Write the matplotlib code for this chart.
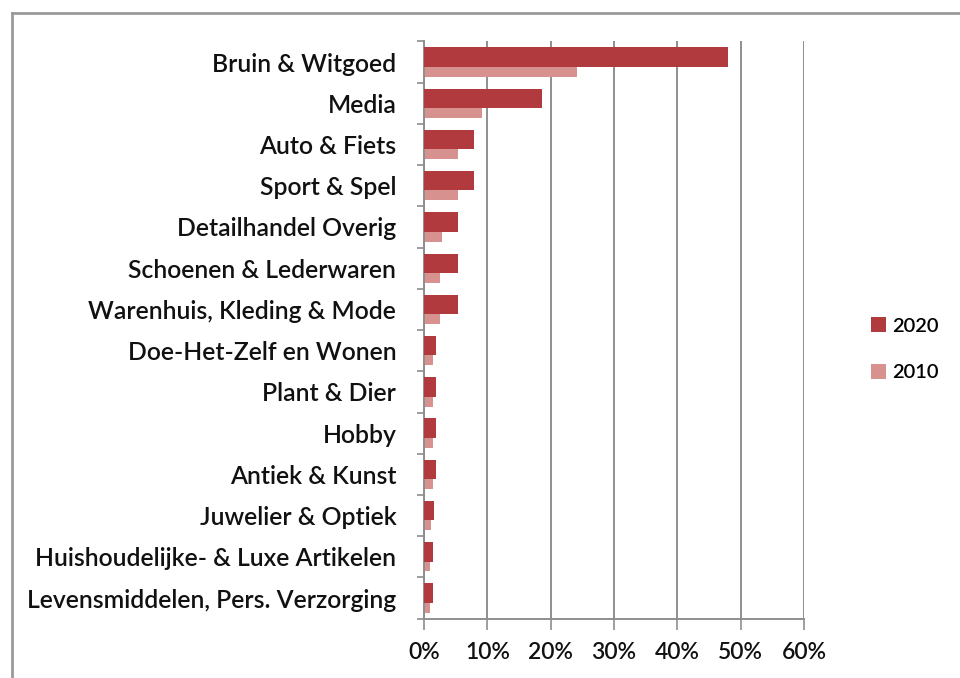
import numpy as np
import matplotlib.pyplot as plt
from matplotlib.lines import Line2D
from matplotlib.ticker import PercentFormatter

categories = ['Bruin & Witgoed', 'Media', 'Auto & Fiets', 'Sport & Spel',
              'Detailhandel Overig', 'Schoenen & Lederwaren',
              'Warenhuis, Kleding & Mode', 'Doe-Het-Zelf en Wonen',
              'Plant & Dier', 'Hobby', 'Antiek & Kunst', 'Juwelier & Optiek',
              'Huishoudelijke- & Luxe Artikelen',
              'Levensmiddelen, Pers. Verzorging']
share_2020 = [48, 18.6, 7.9, 7.9, 5.4, 5.4, 5.4, 1.9, 1.9, 1.9, 1.9, 1.6, 1.4, 1.4]
share_2010 = [24.2, 9.2, 5.4, 5.4, 2.8, 2.5, 2.5, 1.4, 1.4, 1.4, 1.4, 1.1, 0.9, 0.9]

c2020 = '#B03A3E'
c2010 = '#D7918F'
grid_c = '#8E8E8E'
font = 'Lato'

fig = plt.figure(figsize=(9.6, 6.78), dpi=100)
ax = fig.add_axes([0.4417, 0.0875, 0.3958, 0.8514])

y = np.arange(len(categories))
h = 0.47
off = 0.12
ax.barh(y + off, share_2010, height=h, color=c2010, label='2010', zorder=2)
ax.barh(y - off, share_2020, height=h, color=c2020, label='2020', zorder=3)

ax.set_xlim(0, 60)
ax.set_ylim(len(categories) - 0.5, -0.5)
ax.xaxis.set_major_locator(plt.MultipleLocator(10))
ax.xaxis.set_major_formatter(PercentFormatter(decimals=0))
ax.grid(axis='x', color=grid_c, linewidth=1.4, zorder=0)

ax.set_yticks(y)
ax.set_yticklabels(categories)
ax.set_yticks(np.arange(len(categories) + 1) - 0.5, minor=True)
ax.tick_params(axis='y', which='major', length=0, pad=20, labelsize=17.8,
               labelcolor='#111111')
ax.tick_params(axis='y', which='minor', length=5, color=grid_c, width=1.2)
ax.tick_params(axis='x', length=8, color=grid_c, width=1.2, pad=9,
               labelsize=16.5, labelcolor='#111111')
for lbl in ax.get_yticklabels() + ax.get_xticklabels():
    lbl.set_fontfamily(font)
    lbl.set_fontweight('semibold')

for s in ['top', 'right']:
    ax.spines[s].set_visible(False)
for s in ['left', 'bottom']:
    ax.spines[s].set_color(grid_c)
    ax.spines[s].set_linewidth(1.4)

handles, labels = ax.get_legend_handles_labels()
ax.legend(handles[::-1], labels[::-1], loc='center left',
          bbox_to_anchor=(0.888, 0.485), bbox_transform=fig.transFigure,
          frameon=False, handlelength=0.75, handleheight=0.75,
          handletextpad=0.3, labelspacing=1.45,
          prop={'family': font, 'size': 14.5, 'weight': 'semibold'})

# outer chart border (cut off at right and bottom)
fig.add_artist(Line2D([12 / 960, 1], [1 - 13 / 678] * 2, color='#9A9A9A', lw=2))
fig.add_artist(Line2D([12 / 960] * 2, [0, 1 - 13 / 678], color='#9A9A9A', lw=2))

fig.savefig('out.png', dpi=100)
